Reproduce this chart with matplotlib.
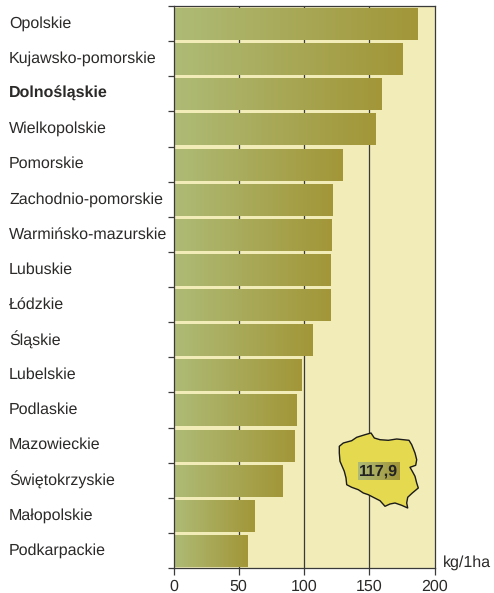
import numpy as np
from matplotlib import pyplot as plt
from matplotlib.colors import LinearSegmentedColormap
from matplotlib.patches import Polygon

regions = ["Opolskie", "Kujawsko-pomorskie", "Dolnośląskie", "Wielkopolskie", "Pomorskie",
           "Zachodnio-pomorskie", "Warmińsko-mazurskie", "Lubuskie", "Łódzkie", "Śląskie",
           "Lubelskie", "Podlaskie", "Mazowieckie", "Świętokrzyskie", "Małopolskie", "Podkarpackie"]
values = [186.5, 175, 159, 154.5, 129.5, 121.5, 121, 120, 120, 106.5, 98, 93.5, 92.5, 83.5, 62, 56]
x_ticks = [0, 50, 100, 150, 200]
average_label = "117,9"
# outline of the map in pixels
poland_x = [339.3, 343.3, 351.7, 356.7, 365, 371, 374.3, 380, 388.3, 396.7, 409, 411.7, 415, 416.7,
            415.7, 410, 412.3, 415, 416.7, 418.3, 412.3, 407.7, 406.7, 407.7, 401.7, 395, 390, 385,
            380, 373.3, 368.3, 363.3, 358.3, 351.7, 346.7, 346, 344.3, 340, 339.3]
poland_y = [446.3, 443, 440.7, 437.3, 434.7, 433, 438, 439.7, 440.3, 439, 440.3, 444.7, 453, 459.7,
            465.3, 467.3, 471.3, 476.3, 483, 488, 493, 497.3, 503, 508, 505.3, 503, 504, 506.3,
            500.7, 497.3, 494.7, 493, 489.7, 487.3, 484.7, 478, 471.3, 461.3, 453]

W, H = 494, 593
AX_L, AX_R, AX_T, AX_B = 173.5, 434.5, 6, 568
TEXT = "#2b2a29"
LINE = "#3a3a3a"

bar_cmap = LinearSegmentedColormap.from_list("bar", ["#aebb76", "#a29638"])
gradient = np.linspace(0, 1, 256).reshape(1, -1)

plt.rcParams['font.family'] = ['Liberation Sans', 'DejaVu Sans']
plt.rcParams['text.hinting'] = 'no_hinting'
plt.rcParams['text.hinting_factor'] = 1
fig = plt.figure(figsize=(W / 100, H / 100), dpi=100)
ax = fig.add_axes([AX_L / W, 1 - AX_B / H, (AX_R - AX_L) / W, (AX_B - AX_T) / H])
ax.set_facecolor("#f2ecb8")

for x in x_ticks[1:-1]:
    ax.axvline(x, color=LINE, lw=0.9, zorder=1)

for i, (name, value) in enumerate(zip(regions, values)):
    ax.imshow(gradient, cmap=bar_cmap, aspect="auto", zorder=2,
              extent=(0, value, i + 0.97, i + 0.07))
    ax.text(-126, i + 0.5, name, ha="left", va="center", fontsize=11.7, color=TEXT,
            fontweight="bold" if name == "Dolnośląskie" else "normal")
ax.set_xlim(0, 200)
ax.set_ylim(len(regions), 0)

ax.set_xticks(x_ticks)
ax.set_yticks(range(0, len(regions) + 1))
ax.set_yticklabels([])
ax.tick_params(axis="x", length=5, width=0.9, color=LINE, labelsize=11.5, labelcolor=TEXT, pad=3)
ax.tick_params(axis="y", length=4, width=0.9, color=LINE)
for spine in ax.spines.values():
    spine.set_color(LINE)
    spine.set_linewidth(0.9)
ax.text(1.033, -0.004, "kg/1ha", transform=ax.transAxes, fontsize=11.8, color=TEXT,
        ha="left", va="bottom")

# map inset works in picture pixels
overlay = fig.add_axes([0, 0, 1, 1], facecolor="none")
overlay.axis("off")
overlay.add_patch(Polygon(np.column_stack([poland_x, poland_y]), closed=True, facecolor="#e5d94f",
                          edgecolor="#1a1a1a", lw=1.0, joinstyle="round", zorder=1))
overlay.imshow(gradient, cmap=bar_cmap, aspect="auto", extent=(357.7, 399, 479.7, 462.3), zorder=2)
overlay.set_xlim(0, W)
overlay.set_ylim(H, 0)
overlay.text(378.3, 471, average_label, ha="center", va="center", fontsize=11.5, fontweight="bold",
             color="#222222", zorder=3)

fig.savefig("out.png", dpi=100)
